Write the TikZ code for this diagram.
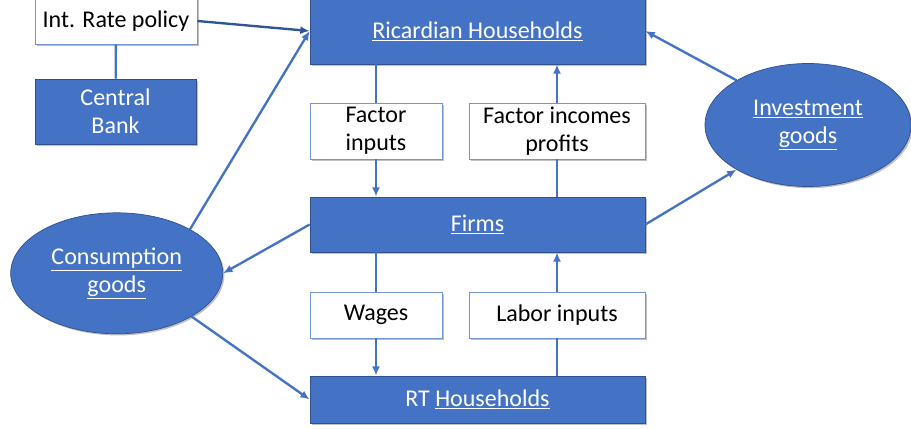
\documentclass[tikz,border=0pt]{standalone}
\usepackage{fontspec}
\setmainfont{Carlito}
\usetikzlibrary{shapes.geometric,arrows.meta,shadows}
\definecolor{boxblue}{HTML}{4472C4}
\definecolor{edgeblue}{HTML}{2F528F}
\definecolor{navy}{HTML}{2F5597}
\begin{document}
\begin{tikzpicture}[x=0.03cm, y=-0.03cm,
        font=\fontsize{20.5}{24}\selectfont,
        >={Latex[length=2.8mm,width=2.4mm]},
        shade/.style={drop shadow={shadow xshift=0.05cm, shadow yshift=-0.05cm, fill=black, opacity=0.25}},
        blk/.style={rectangle, draw=edgeblue, line width=0.6pt, fill=boxblue, text=white, align=center, inner sep=0pt, shade},
        lbl/.style={rectangle, draw=boxblue!75, line width=0.6pt, fill=white, text=black, align=center, inner sep=0pt, shade},
        good/.style={ellipse, draw=edgeblue, line width=0.6pt, fill=boxblue, text=white, align=center, inner sep=0pt, shade},
        flow/.style={boxblue, line width=2pt}]
        \useasboundingbox (0,0) rectangle (911,429);

        % left column: policy and central bank
        \node[lbl, minimum width=4.86cm, minimum height=1.38cm] (rate) at (116,21) {Int. Rate policy};
        \node[blk, minimum width=4.83cm, minimum height=1.95cm] (cb) at (115.5,111.5) {Central\\Bank};

        % middle column
        \node[blk, minimum width=10.05cm, minimum height=1.98cm] (ricardian) at (477.5,31) {\underline{Ricardian Households}};
        \node[blk, minimum width=10.05cm, minimum height=1.65cm] (firms) at (477.5,224.5) {\underline{Firms}};
        \node[blk, minimum width=10.05cm, minimum height=1.41cm] (rt) at (477.5,399.5) {RT \underline{Households}};

        \node[lbl, minimum width=3.96cm, minimum height=1.68cm] (finp) at (376,131) {Factor\\inputs};
        \node[lbl, minimum width=5.28cm, minimum height=1.68cm] (finc) at (557,131) {Factor incomes\\profits};
        \node[lbl, minimum width=3.96cm, minimum height=1.38cm] (wages) at (376,315) {Wages};
        \node[lbl, minimum width=5.28cm, minimum height=1.38cm] (labor) at (557,315) {Labor inputs};

        % goods markets
        \node[good, minimum width=6.36cm, minimum height=3.63cm] (cons) at (116.7,273.3) {\underline{Consumption}\\\underline{goods}};
        \node[good, minimum width=6.18cm, minimum height=3.69cm] (inv) at (808,125) {\underline{Investment}\\\underline{goods}};

        \draw[flow] (rate) -- (cb);
        \draw[->, navy, line width=2pt] (rate.east) -- (ricardian.west);

        \draw[flow] (ricardian.south -| finp) -- (finp.north);
        \draw[flow, ->] (finp.south) -- (firms.north -| finp);
        \draw[flow] (firms.north -| finc) -- (finc.south);
        \draw[flow, ->] (finc.north) -- (ricardian.south -| finc);
        \draw[flow] (firms.south -| wages) -- (wages.north);
        \draw[flow, ->] (wages.south) -- (rt.north -| wages);
        \draw[flow] (rt.north -| labor) -- (labor.south);
        \draw[flow, ->] (labor.north) -- (firms.south -| labor);

        \draw[flow, ->] (cons.31) -- (ricardian.west);
        \draw[flow, ->] (firms.west) -- (cons.east);
        \draw[flow, ->] (cons.-30) -- (rt.west);
        \draw[flow, ->] (firms.east) -- (inv.212);
        \draw[flow, ->] (inv.148) -- (ricardian.east);
\end{tikzpicture}
\end{document}
